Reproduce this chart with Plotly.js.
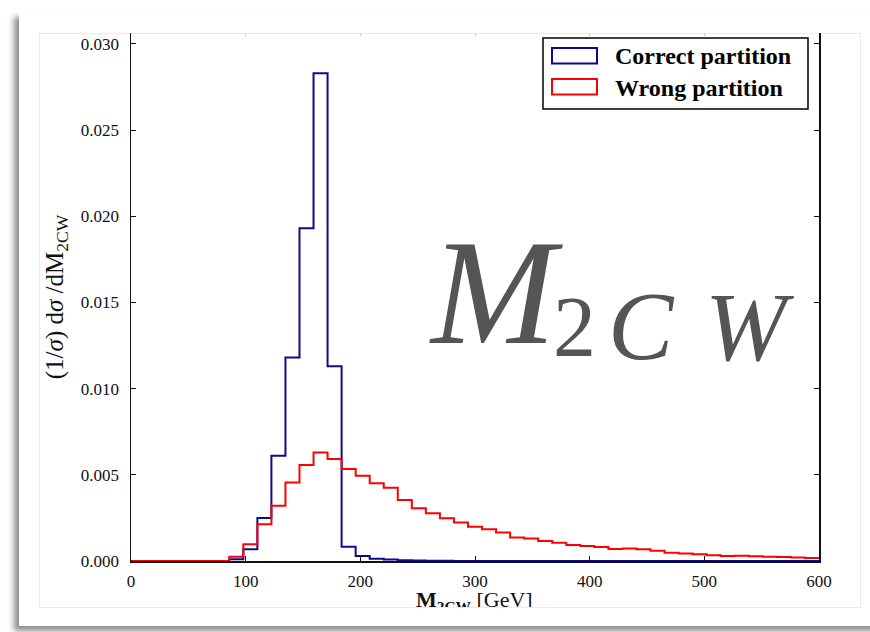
<!DOCTYPE html>
<html>
<head>
<meta charset="utf-8">
<script src="https://cdn.plot.ly/plotly-3.0.1.min.js"></script>
<style>
  html, body { margin: 0; padding: 0; background: #ffffff; }
  body { width: 870px; height: 632px; overflow: hidden; position: relative; }
  #sheet { position: absolute; left: 19px; top: 12px; width: 900px; height: 614px;
           background: #ffffff; box-shadow: -5px 5px 6px rgba(0,0,0,0.45); }
  #frame { position: absolute; left: 39px; top: 33px; width: 822px; height: 575px;
           border: 1px solid #ececec; box-sizing: border-box; }
  #clip  { position: absolute; left: 0; top: 0; width: 870px; height: 607px; overflow: hidden; }
</style>
</head>
<body>
<div id="sheet"></div>
<div id="frame"></div>
<div id="clip"><div id="chart"></div></div>
<script>
// Histogram binning: 49 equal bins over [0, 600] GeV
const binLow = 0;
const binHigh = 600;
const binCount = 49;

// Normalised distributions (1/sigma dsigma/dM2CW), one value per bin
const correctPartition = [
  0, 0, 0, 0, 0, 0, 0,
  0.0001, 0.00068, 0.0025, 0.0061, 0.0118, 0.0193, 0.0283, 0.0113,
  0.00083, 0.00029, 0.00013, 0.00008, 0.00005, 0.00003, 0.00002, 0.00001,
  0, 0, 0, 0, 0, 0, 0, 0, 0, 0, 0, 0, 0, 0, 0, 0, 0, 0, 0, 0, 0, 0, 0, 0, 0, 0
];
const wrongPartition = [
  0, 0, 0, 0, 0, 0, 0,
  0.00025, 0.00097, 0.00213, 0.00321, 0.00456, 0.00557, 0.0063, 0.00592,
  0.00534, 0.00495, 0.00451, 0.00425, 0.00354, 0.00306, 0.00277, 0.00248,
  0.00224, 0.00199, 0.00184, 0.00166, 0.00137, 0.00131, 0.00116, 0.00106,
  0.00093, 0.00087, 0.00081, 0.0007, 0.00072, 0.00068, 0.0006, 0.00048,
  0.00043, 0.00039, 0.00033, 0.00029, 0.00031, 0.00027, 0.00025, 0.00023,
  0.0002, 0.00018
];

const seriesNames = ['Correct partition', 'Wrong partition'];
const seriesColors = ['#0b0b8c', '#ff0000'];

const xTicks = [0, 100, 200, 300, 400, 500, 600];
const yTicks = [0, 0.005, 0.010, 0.015, 0.020, 0.025, 0.030];
const yTickText = ['0.000', '0.005', '0.010', '0.015', '0.020', '0.025', '0.030'];

// bin edges
const edges = [];
for (let k = 0; k <= binCount; k++) edges.push(binLow + (binHigh - binLow) * k / binCount);

// step outline: each value held across its bin, last value repeated at the right edge
function stepTrace(vals, name, color) {
  return {
    type: 'scatter', mode: 'lines', name: name,
    x: edges.slice(),
    y: vals.concat([vals[vals.length - 1]]),
    line: { shape: 'hv', color: color, width: 2 },
    cliponaxis: false, showlegend: false, hoverinfo: 'x+y'
  };
}

// plot area in page pixels
const PL = 131, PR = 819, PT = 33, PB = 561;
const px = x => (x - PL) / (PR - PL);
const py = y => (PB - y) / (PB - PT);

const serif = 'Liberation Serif, Times New Roman, serif';

const traces = [
  stepTrace(correctPartition, seriesNames[0], seriesColors[0]),
  stepTrace(wrongPartition, seriesNames[1], seriesColors[1]),
  // carries the faint tick marks along the top edge
  { type: 'scatter', mode: 'none', x: [binLow, binHigh], y: [0, 0], xaxis: 'x2',
    showlegend: false, hoverinfo: 'skip' }
];

const legendTop = [48, 79];
const legendTextY = [56, 88];

const shapes = [
  { type: 'rect', xref: 'paper', yref: 'paper', x0: px(543), x1: px(808), y0: py(109), y1: py(38),
    line: { color: '#000', width: 1.5 }, fillcolor: '#fff', layer: 'above' }
];
const annotations = [];
seriesNames.forEach((nm, i) => {
  shapes.push({ type: 'rect', xref: 'paper', yref: 'paper',
    x0: px(552), x1: px(597), y0: py(legendTop[i] + 15.5), y1: py(legendTop[i]),
    line: { color: seriesColors[i], width: 2 }, fillcolor: 'rgba(0,0,0,0)', layer: 'above' });
  annotations.push({ xref: 'paper', yref: 'paper', x: px(613), y: py(legendTextY[i]),
    xanchor: 'left', yanchor: 'middle', showarrow: false,
    text: '<b>' + nm + '</b>', font: { family: serif, size: 24, color: '#000' } });
});

// large observable label inside the axes
const big = { family: serif, color: '#555555' };
annotations.push(
  { xref: 'paper', yref: 'paper', x: px(496), y: py(292), xanchor: 'center', yanchor: 'middle',
    showarrow: false, text: '<i>M</i>', font: Object.assign({ size: 150 }, big) },
  { xref: 'paper', yref: 'paper', x: px(574), y: py(327), xanchor: 'center', yanchor: 'middle',
    showarrow: false, text: '2', font: Object.assign({ size: 86 }, big) },
  { xref: 'paper', yref: 'paper', x: px(641), y: py(326), xanchor: 'center', yanchor: 'middle',
    showarrow: false, text: '<i>C</i>', font: Object.assign({ size: 98 }, big) },
  { xref: 'paper', yref: 'paper', x: px(750), y: py(327), xanchor: 'center', yanchor: 'middle',
    showarrow: false, text: '<i>W</i>', font: Object.assign({ size: 98 }, big) }
);

// horizontal axis title, sitting just under the tick labels
annotations.push({ xref: 'paper', yref: 'paper', x: px(474), y: py(585),
  xanchor: 'center', yanchor: 'top', showarrow: false,
  text: '<b>M<sub>2CW</sub></b> [GeV]', font: { family: serif, size: 22, color: '#111' } });

const layout = {
  width: 870, height: 632,
  margin: { l: PL, r: 870 - PR, t: PT, b: 632 - PB, pad: 0 },
  paper_bgcolor: 'rgba(0,0,0,0)', plot_bgcolor: 'rgba(0,0,0,0)',
  font: { family: serif, size: 17, color: '#111' },
  showlegend: false,
  xaxis: {
    range: [binLow, binHigh], tickvals: xTicks, ticktext: xTicks.map(String),
    ticks: 'inside', ticklen: 5, tickwidth: 1, tickcolor: '#111',
    showline: true, linecolor: '#111', linewidth: 1.5, mirror: false,
    showgrid: false, zeroline: false, ticklabelstandoff: 4,
    tickfont: { family: serif, size: 17, color: '#111' }
  },
  xaxis2: {
    overlaying: 'x', matches: 'x', side: 'top', tickvals: xTicks,
    ticks: 'inside', ticklen: 3, tickwidth: 1, tickcolor: '#cfcfcf',
    showticklabels: false, showline: false, showgrid: false, zeroline: false
  },
  yaxis: {
    range: [0, 0.03063], tickvals: yTicks, ticktext: yTickText,
    ticks: 'inside', ticklen: 5, tickwidth: 1, tickcolor: '#111',
    showline: true, linecolor: '#111', linewidth: 1.5, mirror: 'ticks',
    showgrid: false, zeroline: false, ticklabelstandoff: 7,
    tickfont: { family: serif, size: 17, color: '#111' },
    title: { text: '(1/<i>σ</i>) d<i>σ</i> /dM<sub>2CW</sub>', standoff: 10,
             font: { family: serif, size: 25, color: '#111' } }
  },
  shapes: shapes,
  annotations: annotations
};

Plotly.newPlot('chart', traces, layout, { displayModeBar: false, staticPlot: true });
</script>
</body>
</html>
